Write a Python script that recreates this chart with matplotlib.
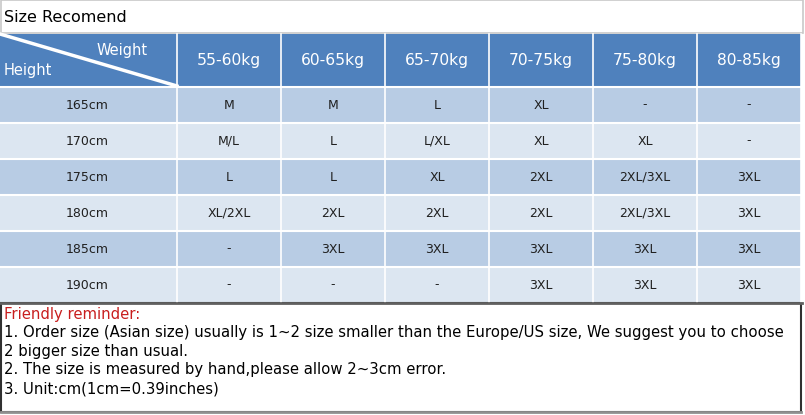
import matplotlib.pyplot as plt
from matplotlib.patches import Rectangle

# Size chart data
title = "Size Recomend"
weights = ["55-60kg", "60-65kg", "65-70kg", "70-75kg", "75-80kg", "80-85kg"]
heights = ["165cm", "170cm", "175cm", "180cm", "185cm", "190cm"]
sizes = [
    ["M", "M", "L", "XL", "-", "-"],
    ["M/L", "L", "L/XL", "XL", "XL", "-"],
    ["L", "L", "XL", "2XL", "2XL/3XL", "3XL"],
    ["XL/2XL", "2XL", "2XL", "2XL", "2XL/3XL", "3XL"],
    ["-", "3XL", "3XL", "3XL", "3XL", "3XL"],
    ["-", "-", "-", "3XL", "3XL", "3XL"],
]
reminder_title = "Friendly reminder:"
reminder_lines = [
    "1. Order size (Asian size) usually is 1~2 size smaller than the Europe/US size, We suggest you to choose",
    "2 bigger size than usual.",
    "2. The size is measured by hand,please allow 2~3cm error.",
    "3. Unit:cm(1cm=0.39inches)",
]

header_blue = "#4F81BD"
row_dark = "#B8CCE4"
row_light = "#DCE6F1"

plt.rcParams['font.family'] = ['DejaVu Sans']

fig = plt.figure(figsize=(8.05, 4.15), dpi=100)
ax = fig.add_axes([0, 0, 1, 1])
ax.set_xlim(0, 805)
ax.set_ylim(415, 0)
ax.axis('off')

# title row
ax.add_patch(Rectangle((0.5, 0.5), 802, 33, facecolor='white', edgecolor='#C8C8C8', lw=1.2))
ax.text(4, 18, title, fontsize=11.5, va='center', ha='left', color='black')

# column geometry
x0 = 0
first_w = 177
col_w = 104
header_top = 34
header_h = 52
row_h = 36
table_top = header_top + header_h

# header
ax.add_patch(Rectangle((x0, header_top), first_w + col_w * len(weights), header_h,
                       facecolor=header_blue, edgecolor='none'))
ax.plot([0, first_w], [header_top, table_top], color='white', lw=2.5)
ax.text(148, 51, "Weight", fontsize=10.5, color='white', ha='right', va='center')
ax.text(4, 71, "Height", fontsize=10.5, color='white', ha='left', va='center')
for j, w in enumerate(weights):
    cx = first_w + col_w * j + col_w / 2
    ax.text(cx, table_top - header_h / 2 + 1, w, fontsize=11.2, color='white',
            ha='center', va='center')

# body rows
for i, h in enumerate(heights):
    y = table_top + 1 + row_h * i
    color = row_dark if i % 2 == 0 else row_light
    ax.add_patch(Rectangle((x0, y), first_w + col_w * len(weights), row_h,
                           facecolor=color, edgecolor='none'))
    ax.text(first_w / 2 - 1, y + row_h / 2, h, fontsize=9, ha='center', va='center',
            color='#202020')
    for j, s in enumerate(sizes[i]):
        cx = first_w + col_w * j + col_w / 2
        ax.text(cx, y + row_h / 2, s, fontsize=9, ha='center', va='center',
                color='#202020')

body_bottom = table_top + 1 + row_h * len(heights)

# grid lines
for k in range(len(heights)):
    yy = table_top + 1 + row_h * k
    ax.plot([0, first_w + col_w * len(weights)], [yy, yy], color='white', lw=1.5)
for j in range(len(weights) + 1):
    xx = first_w + col_w * j
    ax.plot([xx, xx], [header_top, body_bottom], color='white', lw=1.2)

# reminder box
ax.add_patch(Rectangle((1, body_bottom), 800, 412 - body_bottom, facecolor='white',
                       edgecolor='#303030', lw=1.5))
ax.plot([1, 801], [412, 412], color='#909090', lw=2)
ax.plot([0, 802], [body_bottom, body_bottom], color='#606060', lw=2)
ax.text(4, body_bottom + 11, reminder_title, fontsize=10.7, color='#C81E1E',
        ha='left', va='center')
for k, line in enumerate(reminder_lines):
    ax.text(4, body_bottom + 29.5 + 18.7 * k, line, fontsize=10.7, color='black',
            ha='left', va='center')

fig.savefig('out.png', dpi=100)
